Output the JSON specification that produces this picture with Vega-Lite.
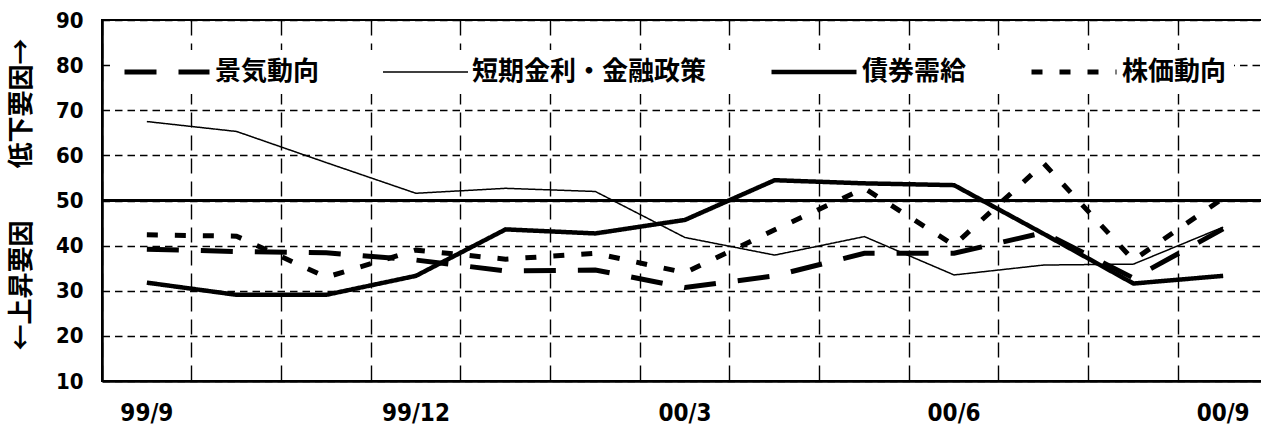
{
  "$schema": "https://vega.github.io/schema/vega-lite/v6.json",
  "width": 1166,
  "height": 361,
  "autosize": {"type": "none"},
  "padding": {"left": 102, "top": 20, "right": 0, "bottom": 44},
  "background": "white",
  "config": {
    "view": {"stroke": "black", "strokeWidth": 2},
    "axis": {"labelColor": "black", "titleColor": "black"}
  },
  "data": {
    "values": [
      {"month": "99/9", "series": "景気動向", "value": 39.2},
      {"month": "99/10", "series": "景気動向", "value": 38.7},
      {"month": "99/11", "series": "景気動向", "value": 38.4},
      {"month": "99/12", "series": "景気動向", "value": 36.8},
      {"month": "00/1", "series": "景気動向", "value": 34.4},
      {"month": "00/2", "series": "景気動向", "value": 34.6},
      {"month": "00/3", "series": "景気動向", "value": 30.7},
      {"month": "00/4", "series": "景気動向", "value": 33.3},
      {"month": "00/5", "series": "景気動向", "value": 38.3},
      {"month": "00/6", "series": "景気動向", "value": 38.3},
      {"month": "00/7", "series": "景気動向", "value": 42.9},
      {"month": "00/8", "series": "景気動向", "value": 32.8},
      {"month": "00/9", "series": "景気動向", "value": 43.7},
      {"month": "99/9", "series": "短期金利・金融政策", "value": 67.5},
      {"month": "99/10", "series": "短期金利・金融政策", "value": 65.3},
      {"month": "99/11", "series": "短期金利・金融政策", "value": 58.4},
      {"month": "99/12", "series": "短期金利・金融政策", "value": 51.6},
      {"month": "00/1", "series": "短期金利・金融政策", "value": 52.7},
      {"month": "00/2", "series": "短期金利・金融政策", "value": 52.0},
      {"month": "00/3", "series": "短期金利・金融政策", "value": 41.8},
      {"month": "00/4", "series": "短期金利・金融政策", "value": 37.9},
      {"month": "00/5", "series": "短期金利・金融政策", "value": 42.0},
      {"month": "00/6", "series": "短期金利・金融政策", "value": 33.5},
      {"month": "00/7", "series": "短期金利・金融政策", "value": 35.7},
      {"month": "00/8", "series": "短期金利・金融政策", "value": 35.9},
      {"month": "00/9", "series": "短期金利・金融政策", "value": 44.1},
      {"month": "99/9", "series": "債券需給", "value": 31.8},
      {"month": "99/10", "series": "債券需給", "value": 29.1},
      {"month": "99/11", "series": "債券需給", "value": 29.1},
      {"month": "99/12", "series": "債券需給", "value": 33.3},
      {"month": "00/1", "series": "債券需給", "value": 43.6},
      {"month": "00/2", "series": "債券需給", "value": 42.7},
      {"month": "00/3", "series": "債券需給", "value": 45.7},
      {"month": "00/4", "series": "債券需給", "value": 54.5},
      {"month": "00/5", "series": "債券需給", "value": 53.8},
      {"month": "00/6", "series": "債券需給", "value": 53.4},
      {"month": "00/7", "series": "債券需給", "value": 42.6},
      {"month": "00/8", "series": "債券需給", "value": 31.6},
      {"month": "00/9", "series": "債券需給", "value": 33.3},
      {"month": "99/9", "series": "株価動向", "value": 42.4},
      {"month": "99/10", "series": "株価動向", "value": 42.1},
      {"month": "99/11", "series": "株価動向", "value": 33.0},
      {"month": "99/12", "series": "株価動向", "value": 39.0},
      {"month": "00/1", "series": "株価動向", "value": 37.0},
      {"month": "00/2", "series": "株価動向", "value": 38.3},
      {"month": "00/3", "series": "株価動向", "value": 34.0},
      {"month": "00/4", "series": "株価動向", "value": 43.5},
      {"month": "00/5", "series": "株価動向", "value": 52.7},
      {"month": "00/6", "series": "株価動向", "value": 40.1},
      {"month": "00/7", "series": "株価動向", "value": 58.2},
      {"month": "00/8", "series": "株価動向", "value": 36.8},
      {"month": "00/9", "series": "株価動向", "value": 50.5}
    ]
  },
  "encoding": {
    "x": {
      "field": "month",
      "type": "ordinal",
      "sort": ["99/9", "99/10", "99/11", "99/12", "00/1", "00/2", "00/3", "00/4", "00/5", "00/6", "00/7", "00/8", "00/9"],
      "scale": {"type": "band", "paddingInner": 0, "paddingOuter": 0},
      "axis": {
        "title": null,
        "bandPosition": 0,
        "labelOffset": 0,
        "labelAngle": 0,
        "labelExpr": "indexof(['99/9','99/12','00/3','00/6','00/9'], datum.value) >= 0 ? datum.label : ''",
        "labelFont": "DejaVu Sans Condensed, sans-serif",
        "labelFontWeight": "bold",
        "labelFontSize": 24,
        "labelPadding": 20,
        "ticks": false,
        "domainColor": "black",
        "domainWidth": 2.5,
        "grid": true,
        "gridColor": "black",
        "gridWidth": 1.4,
        "gridDash": [15, 8],
        "gridOpacity": 1
      }
    },
    "y": {
      "field": "value",
      "type": "quantitative",
      "scale": {"domain": [10, 90], "nice": false, "zero": false},
      "axis": {
        "values": [10, 20, 30, 40, 50, 60, 70, 80, 90],
        "title": "←上昇要因　　低下要因→",
        "titleFont": "Noto Sans CJK JP",
        "titleFontSize": 26,
        "titleFontWeight": "bold",
        "titleAngle": 270,
        "titleX": -81,
        "titleY": 174,
        "titleAlign": "center",
        "titleBaseline": "middle",
        "labelFont": "DejaVu Sans Condensed, sans-serif",
        "labelFontWeight": "bold",
        "labelFontSize": 22,
        "labelPadding": 19,
        "ticks": false,
        "domainColor": "black",
        "domainWidth": 2.5,
        "grid": true,
        "gridColor": "black",
        "gridWidth": 1.4,
        "gridDash": [7.5, 5],
        "gridOpacity": 1
      }
    }
  },
  "layer": [
    {
      "mark": {"type": "rule", "color": "black", "strokeWidth": 2},
      "encoding": {"y": {"datum": 50}, "x": null}
    },
    {
      "mark": {"type": "line", "color": "black", "strokeCap": "butt"},
      "encoding": {
        "strokeDash": {
          "field": "series",
          "type": "nominal",
          "scale": {
            "domain": ["景気動向", "短期金利・金融政策", "債券需給", "株価動向"],
            "range": [[32, 22], [1, 0], [1, 0], [11, 17]]
          },
          "legend": {
            "orient": "none",
            "legendX": 13,
            "legendY": 30,
            "direction": "horizontal",
            "title": null,
            "fillColor": "white",
            "padding": 7,
            "symbolType": "stroke",
            "symbolSize": 7225,
            "symbolStrokeColor": "black",
            "clipHeight": 30,
            "labelFont": "Noto Sans CJK JP",
            "labelFontSize": 26,
            "labelFontWeight": "bold",
            "labelColor": "black",
            "labelOffset": 3,
            "labelLimit": 400,
            "columnPadding": 62
          }
        },
        "strokeWidth": {
          "field": "series",
          "type": "nominal",
          "scale": {
            "type": "ordinal",
            "domain": ["景気動向", "短期金利・金融政策", "債券需給", "株価動向"],
            "range": [5, 1.5, 4.5, 5]
          },
          "legend": {
            "orient": "none",
            "legendX": 13,
            "legendY": 30,
            "direction": "horizontal",
            "title": null,
            "fillColor": "white",
            "padding": 7,
            "symbolType": "stroke",
            "symbolSize": 7225,
            "symbolStrokeColor": "black",
            "clipHeight": 30,
            "labelFont": "Noto Sans CJK JP",
            "labelFontSize": 26,
            "labelFontWeight": "bold",
            "labelColor": "black",
            "labelOffset": 3,
            "labelLimit": 400,
            "columnPadding": 62
          }
        }
      }
    }
  ]
}
